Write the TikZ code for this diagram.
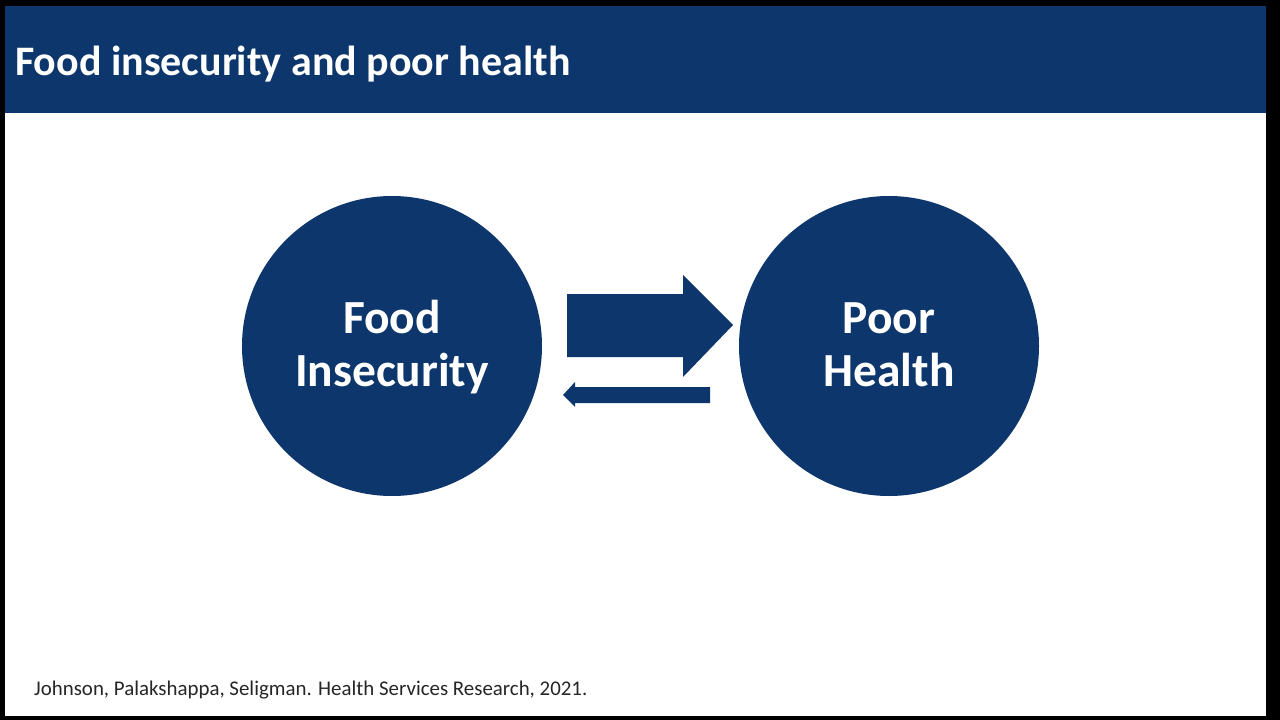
\documentclass[tikz,border=0pt]{standalone}
\usepackage{fontspec}
\setmainfont{Carlito}
\definecolor{navy}{RGB}{13,54,108}
\tikzset{
  circ/.style={circle, fill=navy, minimum size=300pt, inner sep=0pt},
  circtext/.style={anchor=base, inner sep=0pt, text=white, font=\bfseries\fontsize{47.5}{53}\selectfont},
  arrowfill/.style={fill=navy}
}
\begin{document}
\begin{tikzpicture}[x=1pt,y=-1pt]
\fill[black] (0,0) rectangle (1280,720);
\useasboundingbox (0,0) rectangle (1280,720);
\fill[white] (5,6) rectangle (1266,716);
\fill[navy] (5,6) rectangle (1266,113);
\node[anchor=base west, text=white, font=\bfseries\fontsize{42}{48}\selectfont, inner sep=0pt] (title) at (15,75) {Food insecurity and poor health};
\node[circ] (fi) at (392,346) {};
\node[circ] (ph) at (889,346) {};
\node[circtext] (fi1) at (392,333.5) {Food};
\node[circtext] (fi2) at (392,386.5) {Insecurity};
\node[circtext] (ph1) at (889,333.5) {Poor};
\node[circtext] (ph2) at (889,386.5) {Health};
\fill[arrowfill] (567,294) -- (683,294) -- (683,275) -- (733,325) -- (683,377) -- (683,357) -- (567,357) -- cycle;
\fill[arrowfill] (710,387) -- (575,387) -- (575,382) -- (563,395) -- (575,407) -- (575,403) -- (710,403) -- cycle;
\node[anchor=base west, text=black!85, font=\fontsize{20.9}{24}\selectfont, inner sep=0pt] (cite) at (34,695) {Johnson, Palakshappa, Seligman. Health Services Research, 2021.};
\end{tikzpicture}
\end{document}
